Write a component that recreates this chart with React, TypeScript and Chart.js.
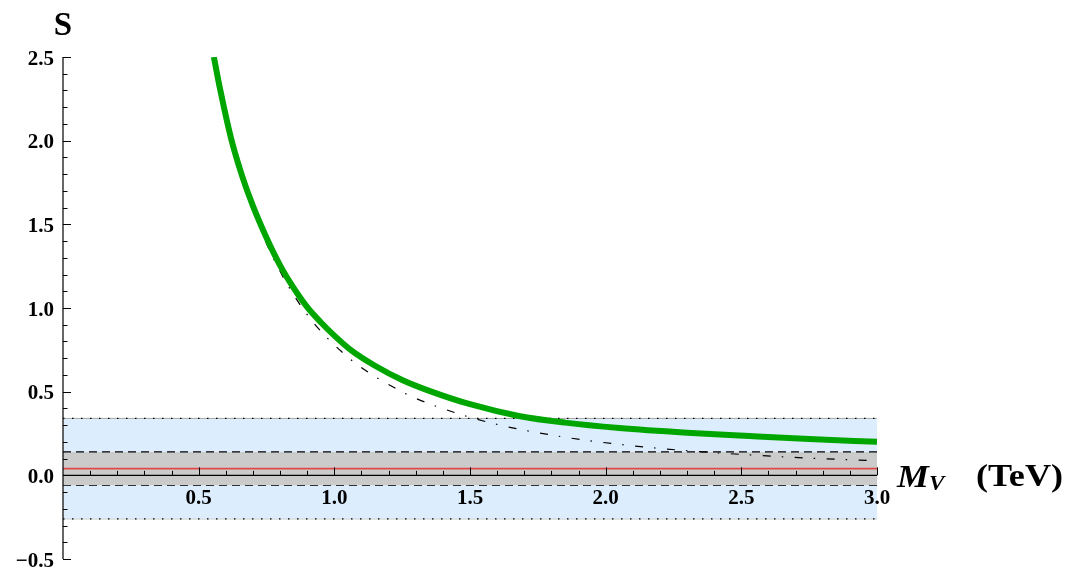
import { useEffect, useRef } from "react";
import { Chart, registerables } from "chart.js";

Chart.register(...registerables);

// Green curve (full S)
const greenX = [0.556, 0.58, 0.62, 0.66, 0.7, 0.75, 0.8, 0.85, 0.9, 0.95, 1.0, 1.06, 1.15, 1.25, 1.35, 1.5, 1.68, 1.85, 2.05, 2.3, 2.53, 2.75, 3.0];
const greenY = [2.5, 2.3, 2.01, 1.79, 1.61, 1.42, 1.255, 1.12, 1.005, 0.915, 0.835, 0.75, 0.655, 0.57, 0.505, 0.425, 0.355, 0.315, 0.283, 0.255, 0.235, 0.217, 0.2];

// Dash-dot curve
const dashDotX = [0.558, 0.62, 0.69, 0.76, 0.88, 1.04, 1.24, 1.35, 1.57, 1.81, 2.04, 2.27, 2.51, 2.75, 3.0];
const dashDotY = [2.5, 2.03, 1.64, 1.35, 1.005, 0.72, 0.507, 0.428, 0.316, 0.238, 0.187, 0.151, 0.124, 0.103, 0.087];

// Experimental value and bands
const centralS = [0.04];
const oneSigma = [0.14, -0.06];
const wideBand = [0.34, -0.26];
const xRange = [0, 3];
const yRange = [-0.5, 2.5];

// Ticks
const xMajorTicks = [0.5, 1.0, 1.5, 2.0, 2.5, 3.0];
const xTickLabels = ["0.5", "1.0", "1.5", "2.0", "2.5", "3.0"];
const yMajorTicks = [-0.5, 0.0, 0.5, 1.0, 1.5, 2.0, 2.5];
const yTickLabels = ["\u22120.5", "0.0", "0.5", "1.0", "1.5", "2.0", "2.5"];
const minorStep = [0.1];

const SERIF = "'Liberation Serif', 'DejaVu Serif', serif";
const TICK_FONT = "bold 21px " + SERIF;

function pts(xs: number[], ys: number[]) {
  return xs.map((x, i) => ({ x, y: ys[i] }));
}
function hline(y: number) {
  return [
    { x: xRange[0], y },
    { x: xRange[1], y },
  ];
}

function stretchedText(ctx: CanvasRenderingContext2D, text: string, x: number, y: number, sx: number) {
  ctx.save();
  ctx.translate(x, y);
  ctx.scale(sx, 1);
  ctx.fillText(text, 0, 0);
  ctx.restore();
}

const axesPlugin = {
  id: "mmaAxes",
  afterDatasetsDraw(chart: any) {
    const ctx = chart.ctx as CanvasRenderingContext2D;
    const xs = chart.scales.x;
    const ys = chart.scales.y;
    const x0 = xs.getPixelForValue(0);
    const y0 = ys.getPixelForValue(0);
    ctx.save();
    ctx.strokeStyle = "#000";
    ctx.fillStyle = "#000";
    ctx.lineWidth = 1.2;
    // x axis at y = 0
    ctx.beginPath();
    ctx.moveTo(xs.getPixelForValue(xRange[0]), y0);
    ctx.lineTo(xs.getPixelForValue(xRange[1]), y0);
    ctx.stroke();
    // y axis at x = 0
    ctx.beginPath();
    ctx.moveTo(x0, ys.getPixelForValue(yRange[0]));
    ctx.lineTo(x0, ys.getPixelForValue(yRange[1]));
    ctx.stroke();

    ctx.lineWidth = 1;
    const step = minorStep[0];
    for (let v = xRange[0] + step; v <= xRange[1] + 1e-9; v += step) {
      const isMajor = Math.abs(v * 2 - Math.round(v * 2)) < 1e-6;
      const px = Math.round(xs.getPixelForValue(v)) + 0.5;
      ctx.beginPath();
      ctx.moveTo(px, y0);
      ctx.lineTo(px, y0 - (isMajor ? 8 : 4.5));
      ctx.stroke();
    }
    for (let v = yRange[0]; v <= yRange[1] + 1e-9; v += step) {
      const isMajor = Math.abs(v * 2 - Math.round(v * 2)) < 1e-6;
      const py = Math.round(ys.getPixelForValue(v)) + 0.5;
      ctx.beginPath();
      ctx.moveTo(x0, py);
      ctx.lineTo(x0 + (isMajor ? 8 : 4.5), py);
      ctx.stroke();
    }

    // tick labels
    ctx.font = TICK_FONT;
    ctx.textAlign = "center";
    ctx.textBaseline = "alphabetic";
    xMajorTicks.forEach((v, i) => {
      ctx.fillText(xTickLabels[i], xs.getPixelForValue(v), y0 + 28.5);
    });
    ctx.textAlign = "right";
    yMajorTicks.forEach((v, i) => {
      ctx.fillText(yTickLabels[i], x0 - 9, ys.getPixelForValue(v) + 7.5);
    });

    // axis titles
    ctx.textAlign = "center";
    ctx.font = "bold 33px " + SERIF;
    ctx.fillText("S", x0, 35);

    ctx.textAlign = "left";
    ctx.font = "italic bold 32px " + SERIF;
    stretchedText(ctx, "M", 897, y0 + 11.5, 1.12);
    ctx.font = "italic bold 22px " + SERIF;
    stretchedText(ctx, "V", 929, y0 + 15, 1.05);
    ctx.font = "bold 32px " + SERIF;
    stretchedText(ctx, "(TeV)", 976, y0 + 11, 1.13);
    ctx.restore();
  },
};

export default function App() {
  const ref = useRef<HTMLCanvasElement | null>(null);
  useEffect(() => {
    if (!ref.current) return;
    const chart = new Chart(ref.current, {
      type: "line",
      data: {
        datasets: [
          {
            label: "S",
            data: pts(greenX, greenY),
            borderColor: "#00a600",
            borderWidth: 6,
            pointRadius: 0,
            cubicInterpolationMode: "monotone",
            fill: false,
            order: 0,
          },
          {
            label: "S (leading)",
            data: pts(dashDotX, dashDotY),
            borderColor: "#000",
            borderWidth: 1.2,
            borderDash: [8, 11, 1.5, 11.5],
            pointRadius: 0,
            cubicInterpolationMode: "monotone",
            fill: false,
            order: 1,
          },
          {
            label: "central",
            data: hline(centralS[0]),
            borderColor: "#e04848",
            borderWidth: 1.6,
            pointRadius: 0,
            fill: false,
            order: 2,
          },
          {
            label: "1 sigma up",
            data: hline(oneSigma[0]),
            borderColor: "#000",
            borderWidth: 1.2,
            borderDash: [8, 5],
            pointRadius: 0,
            fill: "+1",
            backgroundColor: "#cbcbcb",
            order: 3,
          },
          {
            label: "1 sigma down",
            data: hline(oneSigma[1]),
            borderColor: "#000",
            borderWidth: 1.2,
            borderDash: [8, 5],
            pointRadius: 0,
            fill: false,
            order: 4,
          },
          {
            label: "wide up dots",
            data: hline(wideBand[0]),
            borderColor: "#000",
            borderWidth: 1.3,
            borderDash: [1.5, 7.5],
            pointRadius: 0,
            fill: false,
            order: 5,
          },
          {
            label: "wide down dots",
            data: hline(wideBand[1]),
            borderColor: "#000",
            borderWidth: 1.3,
            borderDash: [1.5, 7.5],
            pointRadius: 0,
            fill: false,
            order: 6,
          },
          {
            label: "wide up",
            data: hline(wideBand[0]),
            borderColor: "#a8a8a8",
            borderWidth: 1,
            pointRadius: 0,
            fill: "+1",
            backgroundColor: "#dcedfd",
            order: 7,
          },
          {
            label: "wide down",
            data: hline(wideBand[1]),
            borderColor: "#a8a8a8",
            borderWidth: 1,
            pointRadius: 0,
            fill: false,
            order: 8,
          },
        ],
      },
      options: {
        animation: false,
        responsive: false,
        events: [],
        layout: { padding: { left: 63, top: 57, right: 196, bottom: 11 } },
        plugins: { legend: { display: false }, tooltip: { enabled: false } },
        scales: {
          x: { type: "linear", min: xRange[0], max: xRange[1], display: false },
          y: { type: "linear", min: yRange[0], max: yRange[1], display: false },
        },
      },
      plugins: [axesPlugin],
    });
    return () => chart.destroy();
  }, []);
  return (
    <canvas
      ref={ref}
      width={1073}
      height={570}
      style={{ position: "absolute", left: 0, top: 0, display: "block" }}
    />
  );
}
